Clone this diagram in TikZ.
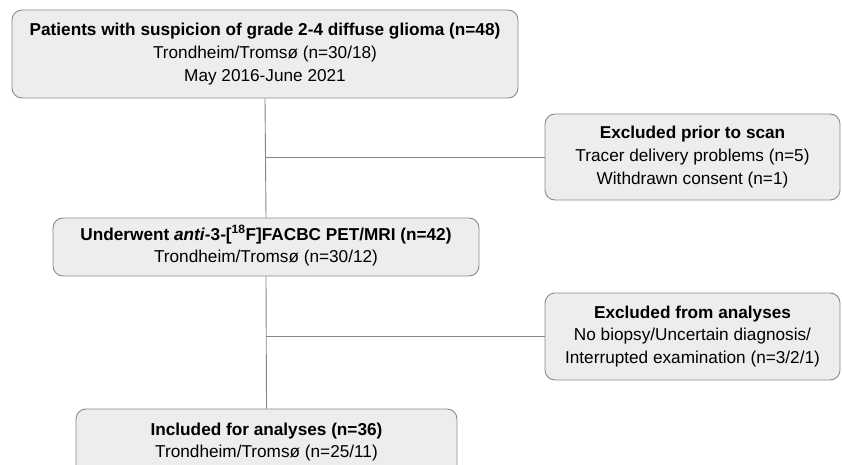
\documentclass[tikz,border=0pt]{standalone}
\usepackage{fontspec}
\setmainfont{Liberation Sans}
\definecolor{boxfill}{HTML}{EDEDED}
\definecolor{boxdraw}{HTML}{8A8A8A}
\definecolor{linecol}{HTML}{858585}
\tikzset{
  flowbox/.style={draw=boxdraw, fill=boxfill, line width=0.9pt, rounded corners=10pt,
    align=center, inner sep=0pt, font=\fontsize{17.2}{22.7}\selectfont},
  conn/.style={draw=linecol, line width=0.9pt}
}
\begin{document}
\begin{tikzpicture}[x=1pt,y=-1pt]
\useasboundingbox (0,0) rectangle (842,465);
\clip (0,0) rectangle (842,465);
\node[flowbox, minimum width=506pt, minimum height=88pt] (b1) at (265,54)
  {\textbf{Patients with suspicion of grade 2-4 diffuse glioma (n=48)}\\Trondheim/Tromsø (n=30/18)\\May 2016-June 2021};
\node[flowbox, minimum width=426pt, minimum height=58pt] (b2) at (266,247)
  {\textbf{Underwent \textit{anti}-3-[\smash{\textsuperscript{18}}F]FACBC PET/MRI (n=42)}\\Trondheim/Tromsø (n=30/12)};
\node[flowbox, minimum width=381pt, minimum height=66pt] (b3) at (266.5,442)
  {\textbf{Included for analyses (n=36)}\\Trondheim/Tromsø (n=25/11)};
\node[flowbox, minimum width=295pt, minimum height=86pt] (e1) at (692.5,157)
  {\textbf{Excluded prior to scan}\\Tracer delivery problems (n=5)\\Withdrawn consent (n=1)};
\node[flowbox, minimum width=295pt, minimum height=87pt] (e2) at (692.5,336.5)
  {\textbf{Excluded from analyses}\\No biopsy/Uncertain diagnosis/\\Interrupted examination (n=3/2/1)};
\coordinate (v1) at (e1.west -| b1.south);
\coordinate (v2) at (e2.west -| b2.south);
\draw[conn] (b1.south) -- (b2.north);
\draw[conn] (b2.south) -- (b3.north);
\draw[conn] (v1) -- (e1.west);
\draw[conn] (v2) -- (e2.west);
\end{tikzpicture}
\end{document}
